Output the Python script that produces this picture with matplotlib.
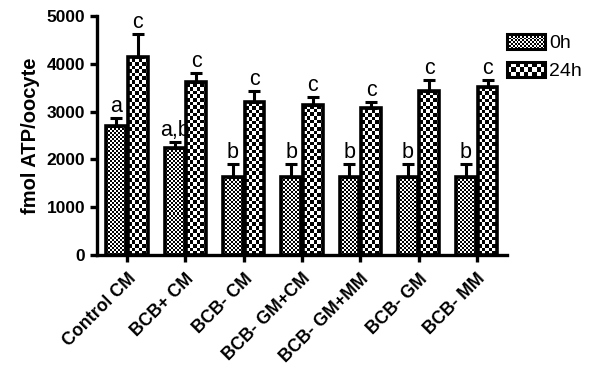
import numpy as np
import matplotlib
matplotlib.use('Agg')
from matplotlib import pyplot as plt
from matplotlib.patches import Rectangle
from matplotlib.legend_handler import HandlerBase

plt.rcParams['font.family'] = ['Liberation Sans', 'DejaVu Sans']

groups = ['Control CM', 'BCB+ CM', 'BCB- CM', 'BCB- GM+CM', 'BCB- GM+MM', 'BCB- GM', 'BCB- MM']
mean_0h = [2700, 2240, 1630, 1630, 1630, 1630, 1630]
err_0h = [160, 130, 270, 270, 270, 270, 270]
mean_24h = [4150, 3620, 3200, 3140, 3070, 3420, 3510]
err_24h = [480, 180, 230, 160, 130, 240, 150]
letters_0h = ['a', 'a,b', 'b', 'b', 'b', 'b', 'b']
letters_24h = ['c', 'c', 'c', 'c', 'c', 'c', 'c']
yticks = [0, 1000, 2000, 3000, 4000, 5000]


def checker(ax, bar, cx, cy):
    # fill a bar with a black/white checkerboard clipped to the bar outline
    x0, y0 = bar.get_x(), bar.get_y()
    w, h = bar.get_width(), bar.get_height()
    nc = int(np.ceil(w / cx)) + 1
    nr = int(np.ceil(h / cy)) + 1
    board = (np.add.outer(np.arange(nr), np.arange(nc)) % 2).astype(float)
    im = ax.imshow(board, cmap='gray', extent=(x0, x0 + nc * cx, y0, y0 + nr * cy),
                   origin='lower', interpolation='nearest', aspect='auto', zorder=2)
    im.set_clip_path(bar)


class CheckerHandler(HandlerBase):
    def __init__(self, cell):
        super().__init__()
        self.cell = cell

    def create_artists(self, legend, orig_handle, xdescent, ydescent, width, height, fontsize, trans):
        arts = []
        nc = max(1, int(round(width / self.cell)))
        nr = max(1, int(round(height / self.cell)))
        cw, ch = width / nc, height / nr
        arts.append(Rectangle((-xdescent, -ydescent), width, height, facecolor='white',
                              edgecolor='none', transform=trans))
        for r in range(nr):
            for c in range(nc):
                if (r + c) % 2 == 0:
                    arts.append(Rectangle((-xdescent + c * cw, -ydescent + r * ch), cw, ch,
                                          facecolor='black', edgecolor='none', transform=trans))
        arts.append(Rectangle((-xdescent, -ydescent), width, height, facecolor='none',
                              edgecolor='black', linewidth=2.2, transform=trans))
        return arts


fig = plt.figure(figsize=(5.98, 3.80), dpi=100)
ax = fig.add_axes([0.162, 0.329, 0.686, 0.629])

x = np.arange(len(groups))
bw = 0.34
off = 0.185
b0 = ax.bar(x - off, mean_0h, bw, facecolor='none', edgecolor='black', linewidth=2.6, zorder=3)
b1 = ax.bar(x + off, mean_24h, bw, facecolor='none', edgecolor='black', linewidth=2.6, zorder=3)
ax.set_xlim(-0.52, 6.52)
ax.set_ylim(0, 5000)

for b in b0:
    checker(ax, b, 0.034, 42)
for b in b1:
    checker(ax, b, 0.06, 76)

ax.errorbar(x - off, mean_0h, yerr=[np.zeros(7), err_0h], fmt='none', ecolor='black',
            elinewidth=2.2, capsize=4, capthick=2.2, zorder=4)
ax.errorbar(x + off, mean_24h, yerr=[np.zeros(7), err_24h], fmt='none', ecolor='black',
            elinewidth=2.2, capsize=4, capthick=2.2, zorder=4)

for i in range(len(groups)):
    ax.text(x[i] - off, mean_0h[i] + err_0h[i] + 20, letters_0h[i], ha='center', va='bottom', fontsize=15.5)
    ax.text(x[i] + off, mean_24h[i] + err_24h[i] + 20, letters_24h[i], ha='center', va='bottom', fontsize=15.5)

ax.legend([b0, b1], ['0h', '24h'], loc='upper left', bbox_to_anchor=(1.0, 0.925), frameon=False,
          fontsize=14, handlelength=1.95, handleheight=0.8, handletextpad=0.2, labelspacing=0.5,
          borderaxespad=0, borderpad=0,
          handler_map={b0: CheckerHandler(1.4), b1: CheckerHandler(3.2)})

ax.spines['top'].set_visible(False)
ax.spines['right'].set_visible(False)
ax.spines['left'].set_linewidth(2.4)
ax.spines['bottom'].set_linewidth(2.4)
ax.tick_params(width=2.4, length=5, direction='out')
ax.tick_params(axis='x', pad=6)
ax.set_yticks(yticks)
ax.set_yticklabels([str(t) for t in yticks], fontsize=12.5, fontweight='bold')
ax.set_xticks(x)
ax.set_xticklabels(groups, rotation=45, ha='right', rotation_mode='anchor', fontsize=12.8, fontweight='bold')
ax.set_ylabel('fmol ATP/oocyte', fontsize=14.5, fontweight='bold', labelpad=5)

fig.savefig('out.png', dpi=100)
